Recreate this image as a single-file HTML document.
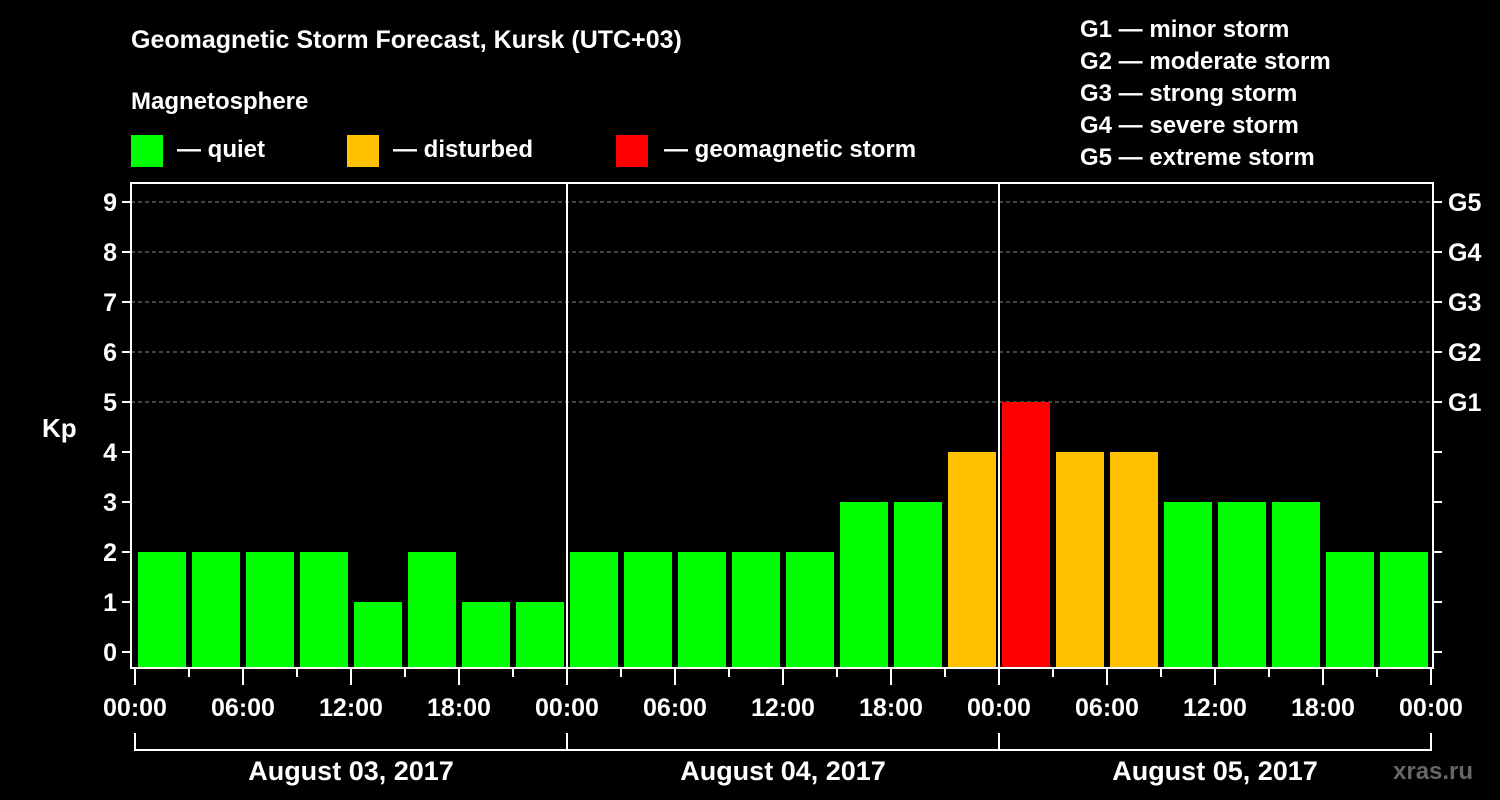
<!DOCTYPE html>
<html><head><meta charset="utf-8"><style>
body{margin:0;background:#000;}
svg{display:block;font-family:"Liberation Sans",sans-serif;font-weight:bold;}
</style></head><body>
<svg id="chart" width="1500" height="800" viewBox="0 0 1500 800" xmlns="http://www.w3.org/2000/svg">
<rect width="1500" height="800" fill="#000"/>
<text x="131" y="48" fill="#fff" font-size="25">Geomagnetic Storm Forecast, Kursk (UTC+03)</text>
<text x="131" y="109" fill="#fff" font-size="24">Magnetosphere</text>
<g><rect x="131" y="135" width="32" height="32" fill="#00ff00"/><text x="177" y="157" fill="#fff" font-size="24">— quiet</text></g>
<g><rect x="347" y="135" width="32" height="32" fill="#ffc000"/><text x="393" y="157" fill="#fff" font-size="24">— disturbed</text></g>
<g><rect x="616" y="135" width="32" height="32" fill="#ff0000"/><text x="664" y="157" fill="#fff" font-size="24">— geomagnetic storm</text></g>
<g fill="#fff" font-size="24">
<text x="1080" y="37">G1 — minor storm</text>
<text x="1080" y="69">G2 — moderate storm</text>
<text x="1080" y="101">G3 — strong storm</text>
<text x="1080" y="133">G4 — severe storm</text>
<text x="1080" y="165">G5 — extreme storm</text>
</g>
<text x="42" y="437" fill="#fff" font-size="26">Kp</text>
<text x="1393" y="779" fill="#666" font-size="24">xras.ru</text>
<g id="grid"></g><g id="bars"></g><g id="axes"></g>
</svg>
<script>
const kpValues=[2,2,2,2,1,2,1,1, 2,2,2,2,2,3,3,4, 5,4,4,3,3,3,2,2];
const dayLabels=["August 03, 2017","August 04, 2017","August 05, 2017"];
const hourLabels=["00:00","06:00","12:00","18:00"];
const gLabels=["G1","G2","G3","G4","G5"];
const yTicks=[0,1,2,3,4,5,6,7,8,9];
const NS="http://www.w3.org/2000/svg";
const L=131,R=1433,T=183,B=668,X0=135,slot=54;
const y=v=>652-50*v;
const x=i=>X0+slot*i;
function mk(tag,attrs,parent,txt){const e=document.createElementNS(NS,tag);for(const k in attrs)e.setAttribute(k,attrs[k]);if(txt!=null)e.textContent=txt;parent.appendChild(e);return e;}
const grid=document.getElementById('grid'),bars=document.getElementById('bars'),axes=document.getElementById('axes');
yTicks.forEach(v=>{
 if(v>=5){const g=mk('line',{x1:L,x2:R,y1:y(v),y2:y(v),stroke:'#888','stroke-dasharray':'4,3','stroke-width':1},grid);
 
 }
 mk('line',{x1:L-9,x2:L,y1:y(v),y2:y(v),stroke:'#fff','stroke-width':2},axes);
 mk('line',{x1:R,x2:R+9,y1:y(v),y2:y(v),stroke:'#fff','stroke-width':2},axes);
 const t=mk('text',{x:L-14,y:y(v)+9,fill:'#fff','font-size':25,'text-anchor':'end'},axes,String(v));
 
 
});
gLabels.forEach((g,i)=>{const t=mk('text',{x:1448,y:y(5+i)+9,fill:'#fff','font-size':25},axes,g);
 
 });
kpValues.forEach((v,i)=>{
 const c=v>=5?'#ff0000':(v>=4?'#ffc000':'#00ff00');
 const r=mk('rect',{x:x(i)+3,y:y(v),width:48,height:B-1-y(v),fill:c},bars);
 
 
});
mk('rect',{x:L,y:T,width:R-L,height:B-T,fill:'none',stroke:'#fff','stroke-width':2},axes);
for(let d=1;d<dayLabels.length;d++)mk('line',{x1:x(8*d),x2:x(8*d),y1:T,y2:B,stroke:'#fff','stroke-width':2},axes);
for(let i=0;i<=kpValues.length;i++){
 const major=i%2===0;
 mk('line',{x1:x(i),x2:x(i),y1:B,y2:B+(major?17:9),stroke:'#fff','stroke-width':2},axes);
 if(major){const t=mk('text',{x:x(i),y:716,fill:'#fff','font-size':25,'text-anchor':'middle'},axes,hourLabels[(i/2)%4]);
 
 }
}
dayLabels.forEach((d,k)=>{
 mk('path',{d:`M${x(8*k)} 733V750H${x(8*k+8)}V733`,fill:'none',stroke:'#fff','stroke-width':2},axes);
 const t=mk('text',{x:x(8*k+4),y:780,fill:'#fff','font-size':27,'text-anchor':'middle'},axes,d);
 
 
});
</script>
</body></html>
